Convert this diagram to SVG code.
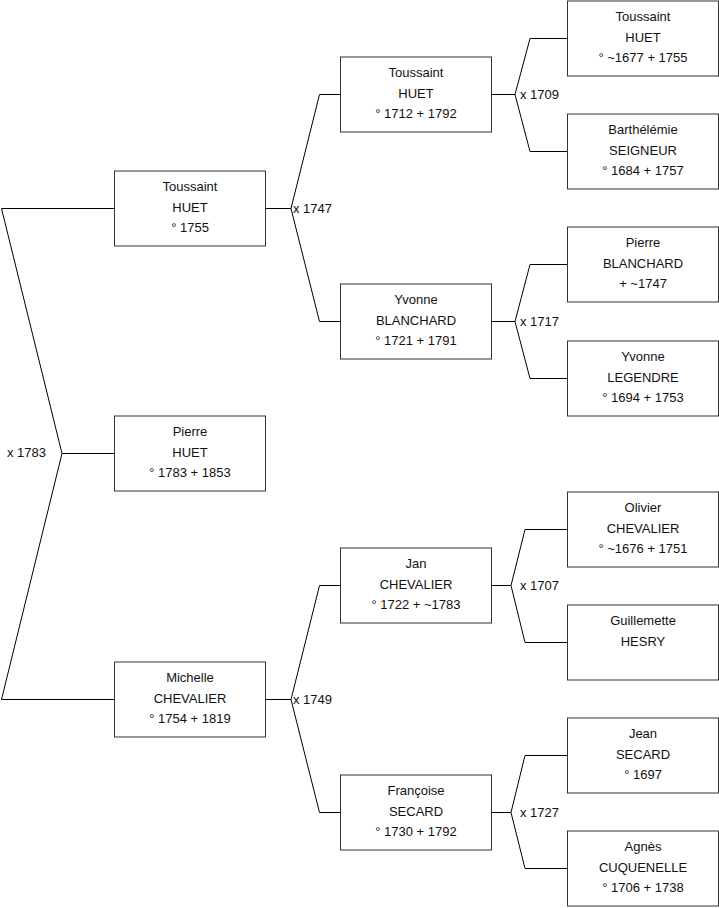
<svg xmlns="http://www.w3.org/2000/svg" width="719" height="908" viewBox="0 0 719 908">
<style>
  rect.box { fill: #ffffff; stroke: #333333; stroke-width: 1; }
  text { font-family: "Liberation Sans", Arial, sans-serif; font-size: 13px; fill: #111111; }
  text.c { text-anchor: middle; }
  .conn path { fill: none; stroke: #000000; stroke-width: 1; }
</style>
<rect width="719" height="908" fill="#ffffff"/>
<g class="conn" id="connectors">
  <path d="M114.5,208.5 H1.5 L62,453.5 L1.5,699.5 H114.5 M62,453.5 H114.5"/>
  <path d="M265.5,208.5 H291 M340.5,94.5 H319.5 L291,208.5 L319.5,321.5 H340.5"/>
  <path d="M265.5,699.5 H291 M340.5,585.5 H319.5 L291,699.5 L319.5,812.5 H340.5"/>
  <path d="M491.5,94.5 H515 M567.5,38.5 H530 L515,94.5 L530,151.5 H567.5"/>
  <path d="M491.5,321.5 H515 M567.5,264.5 H530 L515,321.5 L530,378.5 H567.5"/>
  <path d="M491.5,585.5 H511 M567.5,529.5 H525 L511,585.5 L525,642.5 H567.5"/>
  <path d="M491.5,812.5 H511 M567.5,755.5 H525 L511,812.5 L525,868.5 H567.5"/>
  <text x="7" y="457">x 1783</text>
  <text x="293" y="212.5">x 1747</text>
  <text x="293" y="703.5">x 1749</text>
  <text x="520" y="98.5">x 1709</text>
  <text x="520" y="325.5">x 1717</text>
  <text x="520" y="589.5">x 1707</text>
  <text x="520" y="816.5">x 1727</text>
</g>
<g id="n-toussaint-1755">
  <rect class="box" x="114.5" y="171" width="151" height="75"/>
  <text class="c" x="190" y="191">Toussaint</text>
  <text class="c" x="190" y="211.5">HUET</text>
  <text class="c" x="190" y="231.5">° 1755</text>
</g>
<g id="n-pierre-huet">
  <rect class="box" x="114.5" y="416" width="151" height="75"/>
  <text class="c" x="190" y="436">Pierre</text>
  <text class="c" x="190" y="456.5">HUET</text>
  <text class="c" x="190" y="476.5">° 1783 + 1853</text>
</g>
<g id="n-michelle">
  <rect class="box" x="114.5" y="662" width="151" height="75"/>
  <text class="c" x="190" y="682">Michelle</text>
  <text class="c" x="190" y="702.5">CHEVALIER</text>
  <text class="c" x="190" y="722.5">° 1754 + 1819</text>
</g>
<g id="n-toussaint-1712">
  <rect class="box" x="340.5" y="57" width="151" height="75"/>
  <text class="c" x="416" y="77">Toussaint</text>
  <text class="c" x="416" y="97.5">HUET</text>
  <text class="c" x="416" y="117.5">° 1712 + 1792</text>
</g>
<g id="n-yvonne-blanchard">
  <rect class="box" x="340.5" y="284" width="151" height="75"/>
  <text class="c" x="416" y="304">Yvonne</text>
  <text class="c" x="416" y="324.5">BLANCHARD</text>
  <text class="c" x="416" y="344.5">° 1721 + 1791</text>
</g>
<g id="n-jan-chevalier">
  <rect class="box" x="340.5" y="548" width="151" height="75"/>
  <text class="c" x="416" y="568">Jan</text>
  <text class="c" x="416" y="588.5">CHEVALIER</text>
  <text class="c" x="416" y="608.5">° 1722 + ~1783</text>
</g>
<g id="n-francoise-secard">
  <rect class="box" x="340.5" y="775" width="151" height="75"/>
  <text class="c" x="416" y="795">Françoise</text>
  <text class="c" x="416" y="815.5">SECARD</text>
  <text class="c" x="416" y="835.5">° 1730 + 1792</text>
</g>
<g id="n-toussaint-1677">
  <rect class="box" x="567.5" y="1" width="151" height="75"/>
  <text class="c" x="643" y="21">Toussaint</text>
  <text class="c" x="643" y="41.5">HUET</text>
  <text class="c" x="643" y="61.5">° ~1677 + 1755</text>
</g>
<g id="n-barthelemie">
  <rect class="box" x="567.5" y="114" width="151" height="75"/>
  <text class="c" x="643" y="134">Barthélémie</text>
  <text class="c" x="643" y="154.5">SEIGNEUR</text>
  <text class="c" x="643" y="174.5">° 1684 + 1757</text>
</g>
<g id="n-pierre-blanchard">
  <rect class="box" x="567.5" y="227" width="151" height="75"/>
  <text class="c" x="643" y="247">Pierre</text>
  <text class="c" x="643" y="267.5">BLANCHARD</text>
  <text class="c" x="643" y="287.5">+ ~1747</text>
</g>
<g id="n-yvonne-legendre">
  <rect class="box" x="567.5" y="341" width="151" height="75"/>
  <text class="c" x="643" y="361">Yvonne</text>
  <text class="c" x="643" y="381.5">LEGENDRE</text>
  <text class="c" x="643" y="401.5">° 1694 + 1753</text>
</g>
<g id="n-olivier">
  <rect class="box" x="567.5" y="492" width="151" height="75"/>
  <text class="c" x="643" y="512">Olivier</text>
  <text class="c" x="643" y="532.5">CHEVALIER</text>
  <text class="c" x="643" y="552.5">° ~1676 + 1751</text>
</g>
<g id="n-guillemette">
  <rect class="box" x="567.5" y="605" width="151" height="75"/>
  <text class="c" x="643" y="625">Guillemette</text>
  <text class="c" x="643" y="645.5">HESRY</text>
</g>
<g id="n-jean-secard">
  <rect class="box" x="567.5" y="718" width="151" height="75"/>
  <text class="c" x="643" y="738">Jean</text>
  <text class="c" x="643" y="758.5">SECARD</text>
  <text class="c" x="643" y="778.5">° 1697</text>
</g>
<g id="n-agnes">
  <rect class="box" x="567.5" y="831" width="151" height="75"/>
  <text class="c" x="643" y="851">Agnès</text>
  <text class="c" x="643" y="871.5">CUQUENELLE</text>
  <text class="c" x="643" y="891.5">° 1706 + 1738</text>
</g>
</svg>
